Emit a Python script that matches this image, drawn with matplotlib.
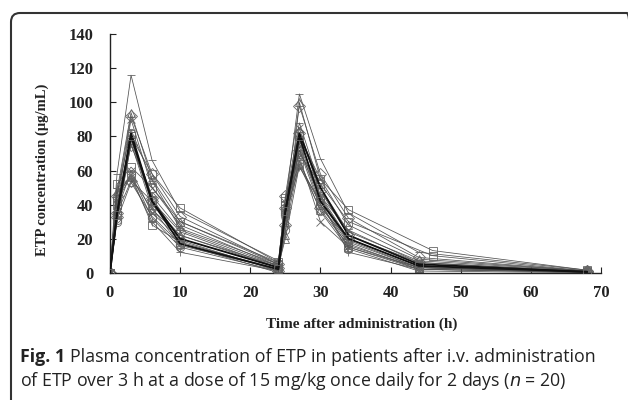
import matplotlib
matplotlib.use("Agg")
import matplotlib.pyplot as plt
from matplotlib.patches import FancyBboxPatch
from matplotlib.transforms import IdentityTransform

# sampling times (h); a few patients had the day-2 late sample at 46 h
times = [0, 1, 3, 6, 10, 24, 25, 27, 30, 34, 44, 68]
times_late = [0, 1, 3, 6, 10, 24, 25, 27, 30, 34, 46, 68]

# ETP concentrations (ug/mL), one list per patient
p01 = [0, 58, 116, 66, 36, 7, 40, 105, 67, 35, 12, 1.5]
p02 = [0, 48, 94, 55, 30, 6, 22, 100, 55, 28, 8, 1]
p03 = [0, 45, 92, 58, 33, 5, 45, 98, 58, 32, 9, 1]
p04 = [0, 40, 90, 50, 28, 4, 38, 85, 45, 25, 6, 0.5]
p05 = [0, 35, 82, 42, 20, 3, 36, 82, 50, 22, 5, 0.5]
p06 = [0, 40, 80, 58, 38, 6, 42, 80, 55, 37, 13, 1.5]
p07 = [0, 32, 79, 45, 25, 4, 33, 78, 45, 20, 4, 0.3]
p08 = [0, 38, 78, 40, 22, 3, 30, 76, 42, 18, 3, 0.3]
p09 = [0, 30, 76, 38, 16, 2, 35, 74, 40, 17, 2, 0.2]
p10 = [0, 33, 75, 44, 19, 1, 28, 72, 38, 20, 4, 0.5]
p11 = [0, 52, 62, 50, 30, 5, 44, 70, 52, 30, 10, 1]
p12 = [0, 36, 60, 35, 20, 3, 30, 68, 30, 15, 3, 0.2]
p13 = [0, 44, 58, 32, 15, 1, 25, 66, 36, 14, 1, 0]
p14 = [0, 42, 57, 28, 18, 2, 40, 64, 40, 15, 2, 0.5]
p15 = [0, 47, 56, 37, 22, 4, 20, 63, 37, 16, 3, 0.5]
p16 = [0, 50, 55, 30, 12, 1, 35, 62, 42, 12, 2, 0.3]
p17 = [0, 35, 54, 42, 24, 3, 38, 82, 48, 22, 6, 0.8]
p18 = [0, 34, 80, 42, 17, 2, 36, 80, 42, 20, 4, 0.5]
p19 = [0, 31, 53, 33, 17, 0, 34, 72, 44, 19, 3, 0.5]
p20 = [0, 46, 84, 54, 26, 5, 42, 88, 50, 24, 7, 1]

patients = [p01, p02, p03, p04, p05, p06, p07, p08, p09, p10,
            p11, p12, p13, p14, p15, p16, p17, p18, p19, p20]
late_ids = [5, 10]      # indices using times_late
bold_ids = [4, 17]      # drawn as darker, thicker lines

x_ticks = [0, 10, 20, 30, 40, 50, 60, 70]
y_ticks = [0, 20, 40, 60, 80, 100, 120, 140]

markers = ["_", "^", "D", "x", "o", "s", "+", "^", "o", "D",
           "s", "x", "o", "s", "^", "+", "D", "s", "o", "_"]

fig = plt.figure(figsize=(6.28, 4.0), dpi=100)
W, H = 628, 400
ax = fig.add_axes([110 / W, 1 - 272.7 / H, (601 - 110) / W, (272.7 - 34.3) / H])

for i, conc in enumerate(patients):
    tt = times_late if i in late_ids else times
    if i in bold_ids:
        col, lw = "#111111", 1.3
    else:
        col, lw = "#505050", 0.55
    ax.plot(tt, conc, color=col, lw=lw, marker=markers[i], ms=6,
            mfc="none", mec="#666666", mew=0.6, zorder=3 if i in bold_ids else 2)

ax.set_xlim(0, 70)
ax.set_ylim(0, 140)
ax.set_xticks(x_ticks)
ax.set_yticks(y_ticks)
for s in ["top", "right"]:
    ax.spines[s].set_visible(False)
for s in ["left", "bottom"]:
    ax.spines[s].set_linewidth(1.0)
    ax.spines[s].set_color("#222222")
ax.tick_params(direction="in", length=4, width=0.8, colors="#222222")
ax.tick_params(axis="y", pad=12)
ax.tick_params(axis="x", pad=9)
serif = ["Liberation Serif", "DejaVu Serif"]
for lab in ax.get_xticklabels() + ax.get_yticklabels():
    lab.set_fontfamily(serif)
    lab.set_fontweight("bold")
    lab.set_fontsize(12)
    lab.set_color("#222222")

fig.text(42 / W, 1 - 170 / H, "ETP concentration (μg/mL)", family=serif,
         fontweight="bold", fontsize=10.5, rotation=90, ha="center",
         va="center", color="#222222")
fig.text(362 / W, 1 - 324 / H, "Time after administration (h)", family=serif,
         fontweight="bold", fontsize=11, ha="center", va="center", color="#222222")

# caption: bold "Fig. 1" followed directly by the regular text
cap = ["Open Sans", "DejaVu Sans"]
fig_lab = fig.text(20 / W, 1 - 362 / H, "Fig. 1", family=cap, fontweight="bold",
                   fontsize=12.8, ha="left", va="baseline", color="#222222")
fig.canvas.draw()
x_end = fig_lab.get_window_extent().x1
fig.text((x_end + 5) / W, 1 - 362 / H,
         "Plasma concentration of ETP in patients after i.v. administration",
         family=cap, fontsize=12.8, ha="left", va="baseline", color="#222222")
fig.text(20 / W, 1 - 386 / H,
         "of ETP over 3 h at a dose of 15 mg/kg once daily for 2 days ($n$ = 20)",
         family=cap, fontsize=12.8, ha="left", va="baseline", color="#222222")

box = FancyBboxPatch((11, -30), 625, 30 + 387,
                     boxstyle="round,pad=0,rounding_size=9",
                     transform=IdentityTransform(), fill=False,
                     ec="#333333", lw=1.5, clip_on=False)
fig.patches.append(box)

fig.savefig("out.png", dpi=100)
